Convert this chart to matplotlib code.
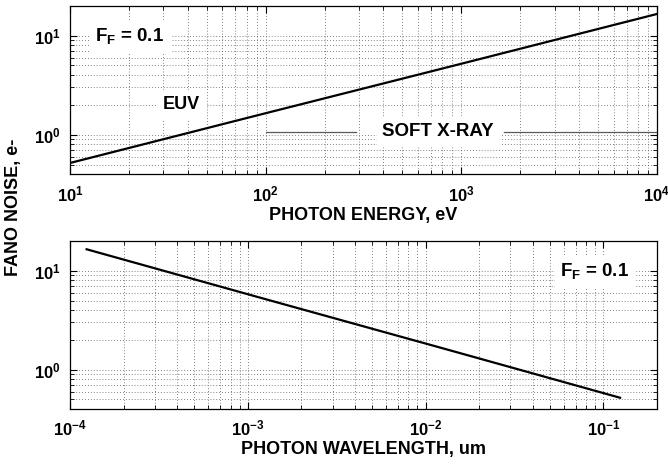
import matplotlib
matplotlib.use("Agg")
import matplotlib.pyplot as plt
from matplotlib.ticker import LogLocator, NullFormatter

plt.rcParams['font.family'] = ['Liberation Sans', 'DejaVu Sans']
plt.rcParams['font.weight'] = 'bold'
plt.rcParams['axes.labelweight'] = 'bold'
plt.rcParams['axes.unicode_minus'] = False
plt.rcParams['mathtext.fontset'] = 'custom'
plt.rcParams['mathtext.rm'] = 'Liberation Sans:bold'
plt.rcParams['mathtext.it'] = 'Liberation Sans:bold'
plt.rcParams['mathtext.bf'] = 'Liberation Sans:bold'
plt.rcParams['mathtext.default'] = 'rm'

# fano noise vs photon energy (eV)
energy_ev = [10, 100, 1000, 10000]
noise_energy = [0.52, 1.65, 5.2, 16.5]

# same curve vs photon wavelength (um)
wavelength_um = [1.24e-4, 1.24e-3, 1.24e-2, 0.124]
noise_wavelength = [16.5, 5.2, 1.65, 0.52]

# soft x-ray band marker segments
sxr_left = [100, 290]
sxr_right = [1660, 10000]
sxr_level = 1.07

fig = plt.figure(figsize=(6.68, 4.66), dpi=100)
ax1 = fig.add_axes([0.1048, 0.626, 0.8787, 0.3618])
ax2 = fig.add_axes([0.1048, 0.1223, 0.8787, 0.3605])


def style(ax):
    ax.set_xscale('log')
    ax.set_yscale('log')
    ax.set_ylim(0.4, 20)
    ax.yaxis.set_minor_locator(LogLocator(base=10, subs=range(2, 10)))
    ax.xaxis.set_minor_locator(LogLocator(base=10, subs=range(2, 10)))
    ax.xaxis.set_minor_formatter(NullFormatter())
    ax.yaxis.set_minor_formatter(NullFormatter())
    ax.grid(True, which='both', linestyle=(0, (1, 2.5)), color='0.35', linewidth=0.6)
    ax.tick_params(which='both', direction='in', top=True, right=True, labelsize=12)
    ax.tick_params(which='major', length=5, pad=7)
    ax.tick_params(which='minor', length=3)
    for sp in ax.spines.values():
        sp.set_linewidth(0.9)


style(ax1)
ax1.set_xlim(10, 1e4)
ax1.plot(energy_ev, noise_energy, color='black', lw=1.6, zorder=3)
ax1.plot(sxr_left, [sxr_level] * 2, color='0.35', lw=0.9, zorder=3)
ax1.plot(sxr_right, [sxr_level] * 2, color='0.35', lw=0.9, zorder=3)
ax1.text(760, sxr_level, 'SOFT X-RAY', fontsize=13.5, ha='center', va='center',
         backgroundcolor='white', zorder=4)
ax1.text(37, 2.02, 'EUV', fontsize=13, ha='center', va='center',
         backgroundcolor='white', zorder=4)
ax1.text(0.043, 0.82, r'$F_F$ = 0.1', transform=ax1.transAxes, fontsize=13.5,
         ha='left', va='center', backgroundcolor='white', zorder=4)
ax1.set_xlabel('PHOTON ENERGY, eV', fontsize=13, labelpad=2)

style(ax2)
ax2.set_xlim(1e-4, 0.2)
ax2.plot(wavelength_um, noise_wavelength, color='black', lw=1.6, zorder=3)
ax2.text(0.835, 0.82, r'$F_F$ = 0.1', transform=ax2.transAxes, fontsize=13.5,
         ha='left', va='center', backgroundcolor='white', zorder=4)
ax2.set_xlabel('PHOTON WAVELENGTH, um', fontsize=13, labelpad=2)

fig.text(0.02, 0.555, 'FANO NOISE, e-', rotation=90, fontsize=13,
         fontweight='bold', ha='center', va='center')

fig.savefig('out.png', dpi=100)
